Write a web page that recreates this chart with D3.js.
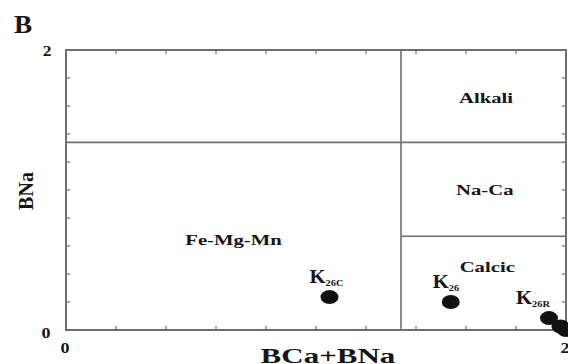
<!DOCTYPE html>
<html>
<head>
<meta charset="utf-8">
<script src="https://cdn.jsdelivr.net/npm/d3@7"></script>
<style>
  body { margin: 0; background: #fff; }
  text { font-family: "Liberation Serif", "DejaVu Serif", serif; font-weight: bold; fill: #151515; }
</style>
</head>
<body>
<script>
// amphibole classification fields (Leake) + analysed points
const sampleNames = ['K26C', 'K26', 'K26R', '', ''];
const subs = ['26C', '26', '26R', '', ''];
const xValues = [1.054, 1.539, 1.932, 1.978, 2.0];
const yValues = [0.235, 0.200, 0.085, 0.025, 0.0];

const fields = ['Alkali', 'Na-Ca', 'Calcic', 'Fe-Mg-Mn'];
const fieldX = [1.68, 1.675, 1.685, 0.67];
const fieldY = [1.66, 1.0, 0.45, 0.64];

const xTicks = d3.range(0, 2.001, 0.2);
const yTicks = d3.range(0, 2.001, 0.2);

const width = 568, height = 364;
const mLeft = 66, mRight = 566, mTop = 50, mBottom = 330;
const sx = 1.38; // the figure is stretched horizontally

const x = d3.scaleLinear().domain([0, 2]).range([mLeft, mRight]);
const y = d3.scaleLinear().domain([0, 2]).range([mBottom, mTop]);

const svg = d3.select("body").append("svg")
    .attr("width", width)
    .attr("height", height);

function addText(px, py, str, size, anchor, stretch) {
    return svg.append("text")
        .attr("transform", `translate(${px},${py}) scale(${stretch || sx},1)`)
        .attr("text-anchor", anchor || "middle")
        .style("font-size", size + "px")
        .text(str);
}

addText(14, 33, "B", 26, "start", 1.05);

// field boundaries
const lineColor = "#6e6e6e";
const bounds = [
    [0, 1.34, 2, 1.34],
    [1.34, 0, 1.34, 2],
    [1.34, 0.67, 2, 0.67]
];
svg.append("g").selectAll("line")
    .data(bounds)
    .join("line")
    .attr("x1", d => x(d[0])).attr("y1", d => y(d[1]))
    .attr("x2", d => x(d[2])).attr("y2", d => y(d[3]))
    .attr("stroke", lineColor)
    .attr("stroke-width", 1.6);

// frame
svg.append("rect")
    .attr("x", mLeft).attr("y", mTop)
    .attr("width", mRight - mLeft).attr("height", mBottom - mTop)
    .attr("fill", "none")
    .attr("stroke", lineColor)
    .attr("stroke-width", 2);

// inward ticks on all four sides
const tk = 4;
const ticks = svg.append("g").attr("stroke", lineColor).attr("stroke-width", 1.2);
xTicks.slice(1, -1).forEach(v => {
    ticks.append("line").attr("x1", x(v)).attr("x2", x(v)).attr("y1", mBottom).attr("y2", mBottom - tk);
    ticks.append("line").attr("x1", x(v)).attr("x2", x(v)).attr("y1", mTop).attr("y2", mTop + tk);
});
yTicks.slice(1, -1).forEach(v => {
    ticks.append("line").attr("y1", y(v)).attr("y2", y(v)).attr("x1", mLeft).attr("x2", mLeft + tk);
    ticks.append("line").attr("y1", y(v)).attr("y2", y(v)).attr("x1", mRight).attr("x2", mRight - tk);
});

// end labels only
addText(47, y(2) + 6, "2", 14, "middle", 1.25);
addText(46, y(0) + 8, "0", 15, "middle", 1.2);
addText(x(0) - 1, mBottom + 23, "0", 15, "middle", 1.2);
addText(x(2) - 1, mBottom + 23, "2", 15, "middle", 1.2);

// axis titles
addText(328, 363, "BCa+BNa", 20, "middle", 1.55);
svg.append("text")
    .attr("transform", `translate(33,191) rotate(-90) scale(1,1.1)`)
    .attr("text-anchor", "middle")
    .style("font-size", "20px")
    .text("BNa");

// field names
fields.forEach((f, i) => addText(x(fieldX[i]), y(fieldY[i]) + 5, f, 15));

// points
svg.append("g").selectAll("ellipse")
    .data(xValues)
    .join("ellipse")
    .attr("cx", d => x(d))
    .attr("cy", (d, i) => y(yValues[i]))
    .attr("rx", 9)
    .attr("ry", 7)
    .attr("fill", "#111");

// K labels with subscripts
const labDx = [-20, -18, -33];
sampleNames.forEach((name, i) => {
    if (name === "") return;
    const t = addText(x(xValues[i]) + labDx[i], y(yValues[i]) - 14, "", 18, "start", 1.15);
    t.append("tspan").text("K");
    t.append("tspan")
        .attr("dy", 3)
        .style("font-size", "9px")
        .text(subs[i]);
});
</script>
</body>
</html>
